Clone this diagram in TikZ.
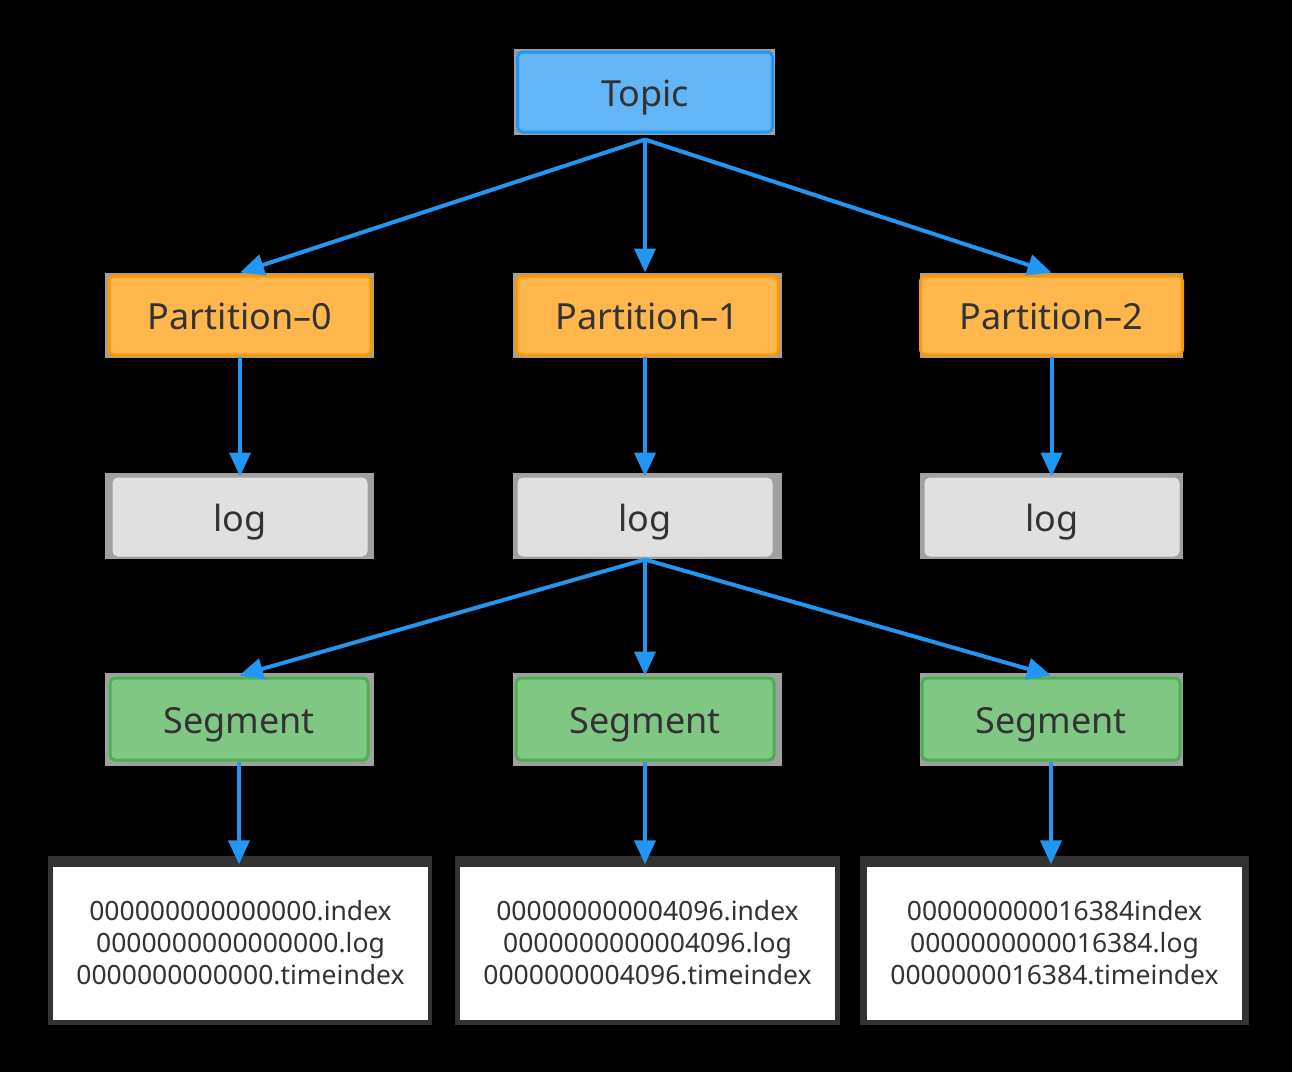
\documentclass[tikz,border=0pt]{standalone}
\usepackage{fontspec}
\setmainfont{Noto Sans}
\usetikzlibrary{arrows.meta,backgrounds,calc}
\definecolor{bluefill}{HTML}{64B5F6}
\definecolor{blueline}{HTML}{2196F3}
\definecolor{orangefill}{HTML}{FFB74D}
\definecolor{orangeline}{HTML}{FF9800}
\definecolor{grayfill}{HTML}{E0E0E0}
\definecolor{framegray}{HTML}{A0A0A0}
\definecolor{greenfill}{HTML}{81C784}
\definecolor{greenline}{HTML}{4CAF50}
\definecolor{txt}{HTML}{333333}
\definecolor{darkframe}{HTML}{333333}
\tikzset{
  box/.style={rounded corners=5pt, line width=3pt, text=txt, font=\fontsize{36}{40}\selectfont, inner sep=0pt, text height=28pt, text depth=0pt},
  topicbox/.style={box, fill=bluefill, draw=blueline, minimum width=255pt, minimum height=80pt},
  partbox/.style={box, fill=orangefill, draw=orangeline, minimum width=262pt, minimum height=79pt},
  logbox/.style={box, fill=grayfill, draw=grayfill, line width=1pt, minimum width=254pt, minimum height=78pt},
  segbox/.style={box, fill=greenfill, draw=greenline, minimum width=258pt, minimum height=82pt},
  filebox/.style={fill=white, text=txt, font=\fontsize{26.5}{32}\selectfont, align=center, minimum width=375pt, minimum height=153pt, inner sep=0pt},
  conn/.style={draw=blueline, line width=4pt, -{Triangle[length=24pt,width=21pt]}},
}
\begin{document}
\begin{tikzpicture}[x=1pt,y=-1pt]
\fill[black] (0,0) rectangle (1292,1072);
\useasboundingbox (0,0) rectangle (1292,1072);
% frames
\fill[framegray] (514,49) rectangle (775,135);
\foreach \x/\w in {105/374,513/782,920/1183}{
  \fill[framegray] (\x,273) rectangle (\w,358);
  \fill[framegray] (\x,473) rectangle (\w,559);
  \fill[framegray] (\x,673) rectangle (\w,766);
}
\fill[darkframe] (48,856) rectangle (432,1025);
\fill[darkframe] (455,856) rectangle (840,1025);
\fill[darkframe] (860,856) rectangle (1249,1025);
% nodes
\node[topicbox] (topic) at (645,92) {Topic};
\node[partbox] (p0) at (240,315.5) {Partition–0};
\node[partbox] (p1) at (647.5,315.5) {Partition–1};
\node[partbox] (p2) at (1051.5,315.5) {Partition–2};
\node[logbox] (l0) at (240,517) {log};
\node[logbox] (l1) at (645,517) {log};
\node[logbox] (l2) at (1052,517) {log};
\node[segbox] (s0) at (239,719) {Segment};
\node[segbox] (s1) at (645,719) {Segment};
\node[segbox] (s2) at (1051,719) {Segment};
\node[filebox] (f0) at (240.5,943) {000000000000000.index\\0000000000000000.log\\0000000000000.timeindex};
\node[filebox] (f1) at (647.5,943) {000000000004096.index\\0000000000004096.log\\0000000004096.timeindex};
\node[filebox] (f2) at (1054.5,943) {000000000016384index\\0000000000016384.log\\0000000016384.timeindex};
% connectors
\coordinate (tb) at ($(topic.south)+(0,6)$);
\draw[conn] (tb) -- ($(p0.north)+(0,-2)$);
\draw[conn] (tb) -- ($(tb |- p1.north)+(0,-2)$);
\draw[conn] (tb) -- ($(p2.north)+(0,-2)$);
\draw[conn] (p0.south) -- ($(p0.south |- l0.north)+(0,-1)$);
\draw[conn] (l1.north |- p1.south) -- ($(l1.north)+(0,-1)$);
\draw[conn] (p2.south) -- ($(p2.south |- l2.north)+(0,-1)$);
\coordinate (lb) at ($(l1.south)+(0,3)$);
\draw[conn] (lb) -- ($(s0.north)+(0,-1)$);
\draw[conn] (lb) -- ($(s1.north)+(0,-1)$);
\draw[conn] (lb) -- ($(s2.north)+(0,-1)$);
\draw[conn] (s0.south) -- ($(s0.south |- f0.north)+(0,-2)$);
\draw[conn] (s1.south) -- ($(s1.south |- f1.north)+(0,-2)$);
\draw[conn] (s2.south) -- ($(s2.south |- f2.north)+(0,-2)$);
\end{tikzpicture}
\end{document}
